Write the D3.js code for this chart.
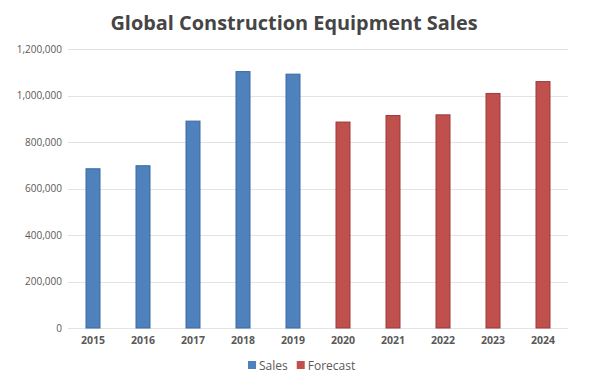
<!DOCTYPE html>
<html><head><meta charset="utf-8">
<script src="https://cdn.jsdelivr.net/npm/d3@7"></script>
<style>body{margin:0;background:#fff;}svg{display:block;}</style>
</head><body>
<script>
const years = ["2015","2016","2017","2018","2019","2020","2021","2022","2023","2024"];
const salesValues = [687000, 700000, 892000, 1105000, 1094000, null, null, null, null, null];
const forecastValues = [null, null, null, null, null, 888000, 916000, 919000, 1011000, 1062000];
const yTicks = [0, 200000, 400000, 600000, 800000, 1000000, 1200000];
const seriesNames = ["Sales", "Forecast"];
const title = "Global Construction Equipment Sales";

const W = 600, H = 379;
const m = {left: 68, right: 32, top: 49, bottom: 51};
const svg = d3.select("body").append("svg").attr("width", W).attr("height", H);
const font = "'Open Sans', sans-serif";
const colors = {Sales: {fill: "#4F81BD", stroke: "#3A6A9F"}, Forecast: {fill: "#C0504D", stroke: "#9E3B38"}};

const x = d3.scaleBand().domain(years).range([m.left, W - m.right]).paddingInner(0.7).paddingOuter(0.35);
const y = d3.scaleLinear().domain([0, 1200000]).range([H - m.bottom, m.top]);

svg.append("text").attr("x", 294).attr("y", 30).attr("text-anchor", "middle")
  .attr("font-family", font).attr("font-weight", "bold").attr("font-size", 19.9)
  .attr("fill", "#454545").text(title);

// gridlines
svg.append("g").selectAll("line").data(yTicks).join("line")
  .attr("x1", m.left).attr("x2", W - m.right)
  .attr("y1", d => Math.round(y(d)) + 0.5).attr("y2", d => Math.round(y(d)) + 0.5)
  .attr("stroke", "#E3E3E3").attr("stroke-width", 1);

const yAxis = svg.append("g").attr("transform", `translate(${m.left - 6},0)`)
  .call(d3.axisLeft(y).tickValues(yTicks).tickFormat(d3.format(",")).tickSize(0).tickPadding(0));
yAxis.select(".domain").remove();
yAxis.selectAll("text").attr("font-family", font).attr("font-size", 10).attr("fill", "#595959");

const xAxis = svg.append("g").attr("transform", `translate(0,${H - m.bottom})`)
  .call(d3.axisBottom(x).tickSize(0).tickPadding(9));
xAxis.select(".domain").remove();
xAxis.selectAll("text").attr("font-family", font).attr("font-size", 10.5).attr("font-weight", "bold").attr("fill", "#595959");

function drawSeries(name, vals) {
  svg.append("g").selectAll("rect").data(years.map((yr, i) => ({yr, v: vals[i]})).filter(d => d.v != null))
    .join("rect")
    .attr("x", d => x(d.yr) + 0.5).attr("width", x.bandwidth() - 1)
    .attr("y", d => y(d.v) + 0.5).attr("height", d => y(0) - y(d.v) - 0.5)
    .attr("fill", colors[name].fill).attr("stroke", colors[name].stroke).attr("stroke-width", 1);
}
drawSeries("Sales", salesValues);
drawSeries("Forecast", forecastValues);

// legend
const lg = svg.append("g").attr("transform", "translate(248,361)");
let lx = 0;
seriesNames.forEach(n => {
  lg.append("rect").attr("x", lx).attr("y", 0).attr("width", 8).attr("height", 8)
    .attr("fill", colors[n].fill);
  const t = lg.append("text").attr("x", lx + 11).attr("y", 8.5).attr("font-family", font)
    .attr("font-size", 12).attr("fill", "#595959").text(n);
  lx += 11 + t.node().getComputedTextLength() + 9;
});
</script>
</body></html>
